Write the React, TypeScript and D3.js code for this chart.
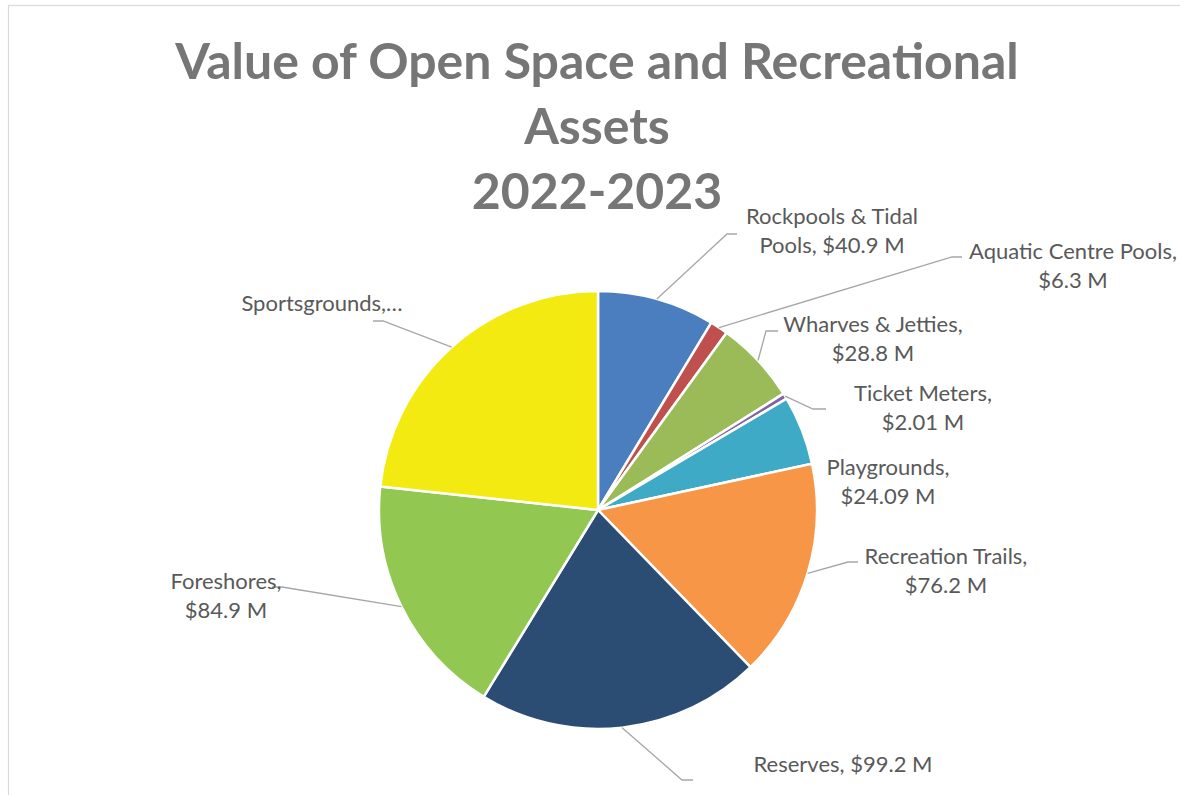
import React from "react";
import * as d3 from "d3";

const categories = [
  "Rockpools & Tidal Pools",
  "Aquatic Centre Pools",
  "Wharves & Jetties",
  "Ticket Meters",
  "Playgrounds",
  "Recreation Trails",
  "Reserves",
  "Foreshores",
  "Sportsgrounds",
];
const values = [40.9, 6.3, 28.8, 2.01, 24.09, 76.2, 99.2, 84.9, 110];
const valueLabels = ["$40.9 M", "$6.3 M", "$28.8 M", "$2.01 M", "$24.09 M", "$76.2 M", "$99.2 M", "$84.9 M", "$110 M"];
const colors = ["#4A7EBE", "#C0504D", "#9BBB59", "#8064A2", "#3FAAC6", "#F79646", "#2B4D74", "#92C852", "#F2EA11"];
const titleLines = ["Value of Open Space and Recreational", "Assets", "2022-2023"];

// label layout: text center x, first line center y, words before line break, leader elbow and end
const labelLayout = [
  { cx: 832, cy: 215, brk: 3, elbow: [727, 234], end: [737, 234] },
  { cx: 1073, cy: 250, brk: 3, elbow: [952, 257], end: [962, 257] },
  { cx: 873, cy: 323, brk: 3, elbow: [766, 331], end: [778, 331] },
  { cx: 923, cy: 392, brk: 2, elbow: [813, 409], end: [826, 409] },
  { cx: 888, cy: 466, brk: 1, elbow: null, end: null },
  { cx: 946, cy: 555, brk: 2, elbow: [848, 562], end: [858, 562] },
  { cx: 843, cy: 763, brk: 0, elbow: [682, 780], end: [693, 780] },
  { cx: 226, cy: 580, brk: 1, elbow: [282, 587], end: [272, 587] },
  { cx: 322, cy: 302, brk: 0, truncate: true, elbow: [383, 321], end: [373, 321] },
];

const W = 1180;
const H = 795;
const CX = 598;
const CY = 510;
const R = 219;

export default function App() {
  const data = categories.map((c, i) => ({ name: c, value: values[i], label: valueLabels[i], color: colors[i] }));
  const pie = d3.pie<any>().sort(null).value((d) => d.value).startAngle(0).endAngle(2 * Math.PI);
  const arcs = pie(data);
  const arc = d3.arc<any>().innerRadius(0).outerRadius(R);
  const line = d3.line();

  const labelLines = (i: number) => {
    const L = labelLayout[i];
    const full = `${categories[i]}, ${valueLabels[i]}`;
    if ((L as any).truncate) return [`${categories[i]},…`];
    if (!L.brk) return [full];
    const words = full.split(" ");
    return [words.slice(0, L.brk).join(" "), words.slice(L.brk).join(" ")];
  };

  return (
    <div style={{ position: "absolute", left: 0, top: 0 }}>
      <svg width={W} height={H} style={{ display: "block" }}>
        <rect x={0} y={0} width={W} height={H} fill="#fff" />
        <rect x={8.5} y={5.5} width={W + 20} height={H + 20} fill="#fff" stroke="#D9D9D9" strokeWidth={1.2} />
        <g fontFamily="Lato, 'Open Sans', sans-serif" fontWeight={700} fill="#767676" fontSize={50} textAnchor="middle">
          {titleLines.map((t, i) => (
            <text key={i} x={597} y={60 + i * 65} dominantBaseline="central">
              {t}
            </text>
          ))}
        </g>
        <g transform={`translate(${CX},${CY})`}>
          {arcs.map((a, i) => (
            <path key={i} d={arc(a) as string} fill={data[i].color} stroke="#fff" strokeWidth={2.5} strokeLinejoin="round" />
          ))}
        </g>
        <g fill="none" stroke="#A6A6A6" strokeWidth={1.3}>
          {arcs.map((a, i) => {
            const L = labelLayout[i];
            if (!L.elbow || !L.end) return null;
            const mid = (a.startAngle + a.endAngle) / 2;
            const start: [number, number] = [CX + R * Math.sin(mid), CY - R * Math.cos(mid)];
            return <path key={i} d={line([start, L.elbow as [number, number], L.end as [number, number]]) as string} />;
          })}
        </g>
        <g fontFamily="Lato, 'Open Sans', sans-serif" fill="#595959" fontSize={22} textAnchor="middle">
          {labelLayout.map((L, i) =>
            labelLines(i).map((t, j) => (
              <text key={`${i}-${j}`} x={L.cx} y={L.cy + j * 29.5} dominantBaseline="central">
                {t}
              </text>
            ))
          )}
        </g>
      </svg>
    </div>
  );
}
